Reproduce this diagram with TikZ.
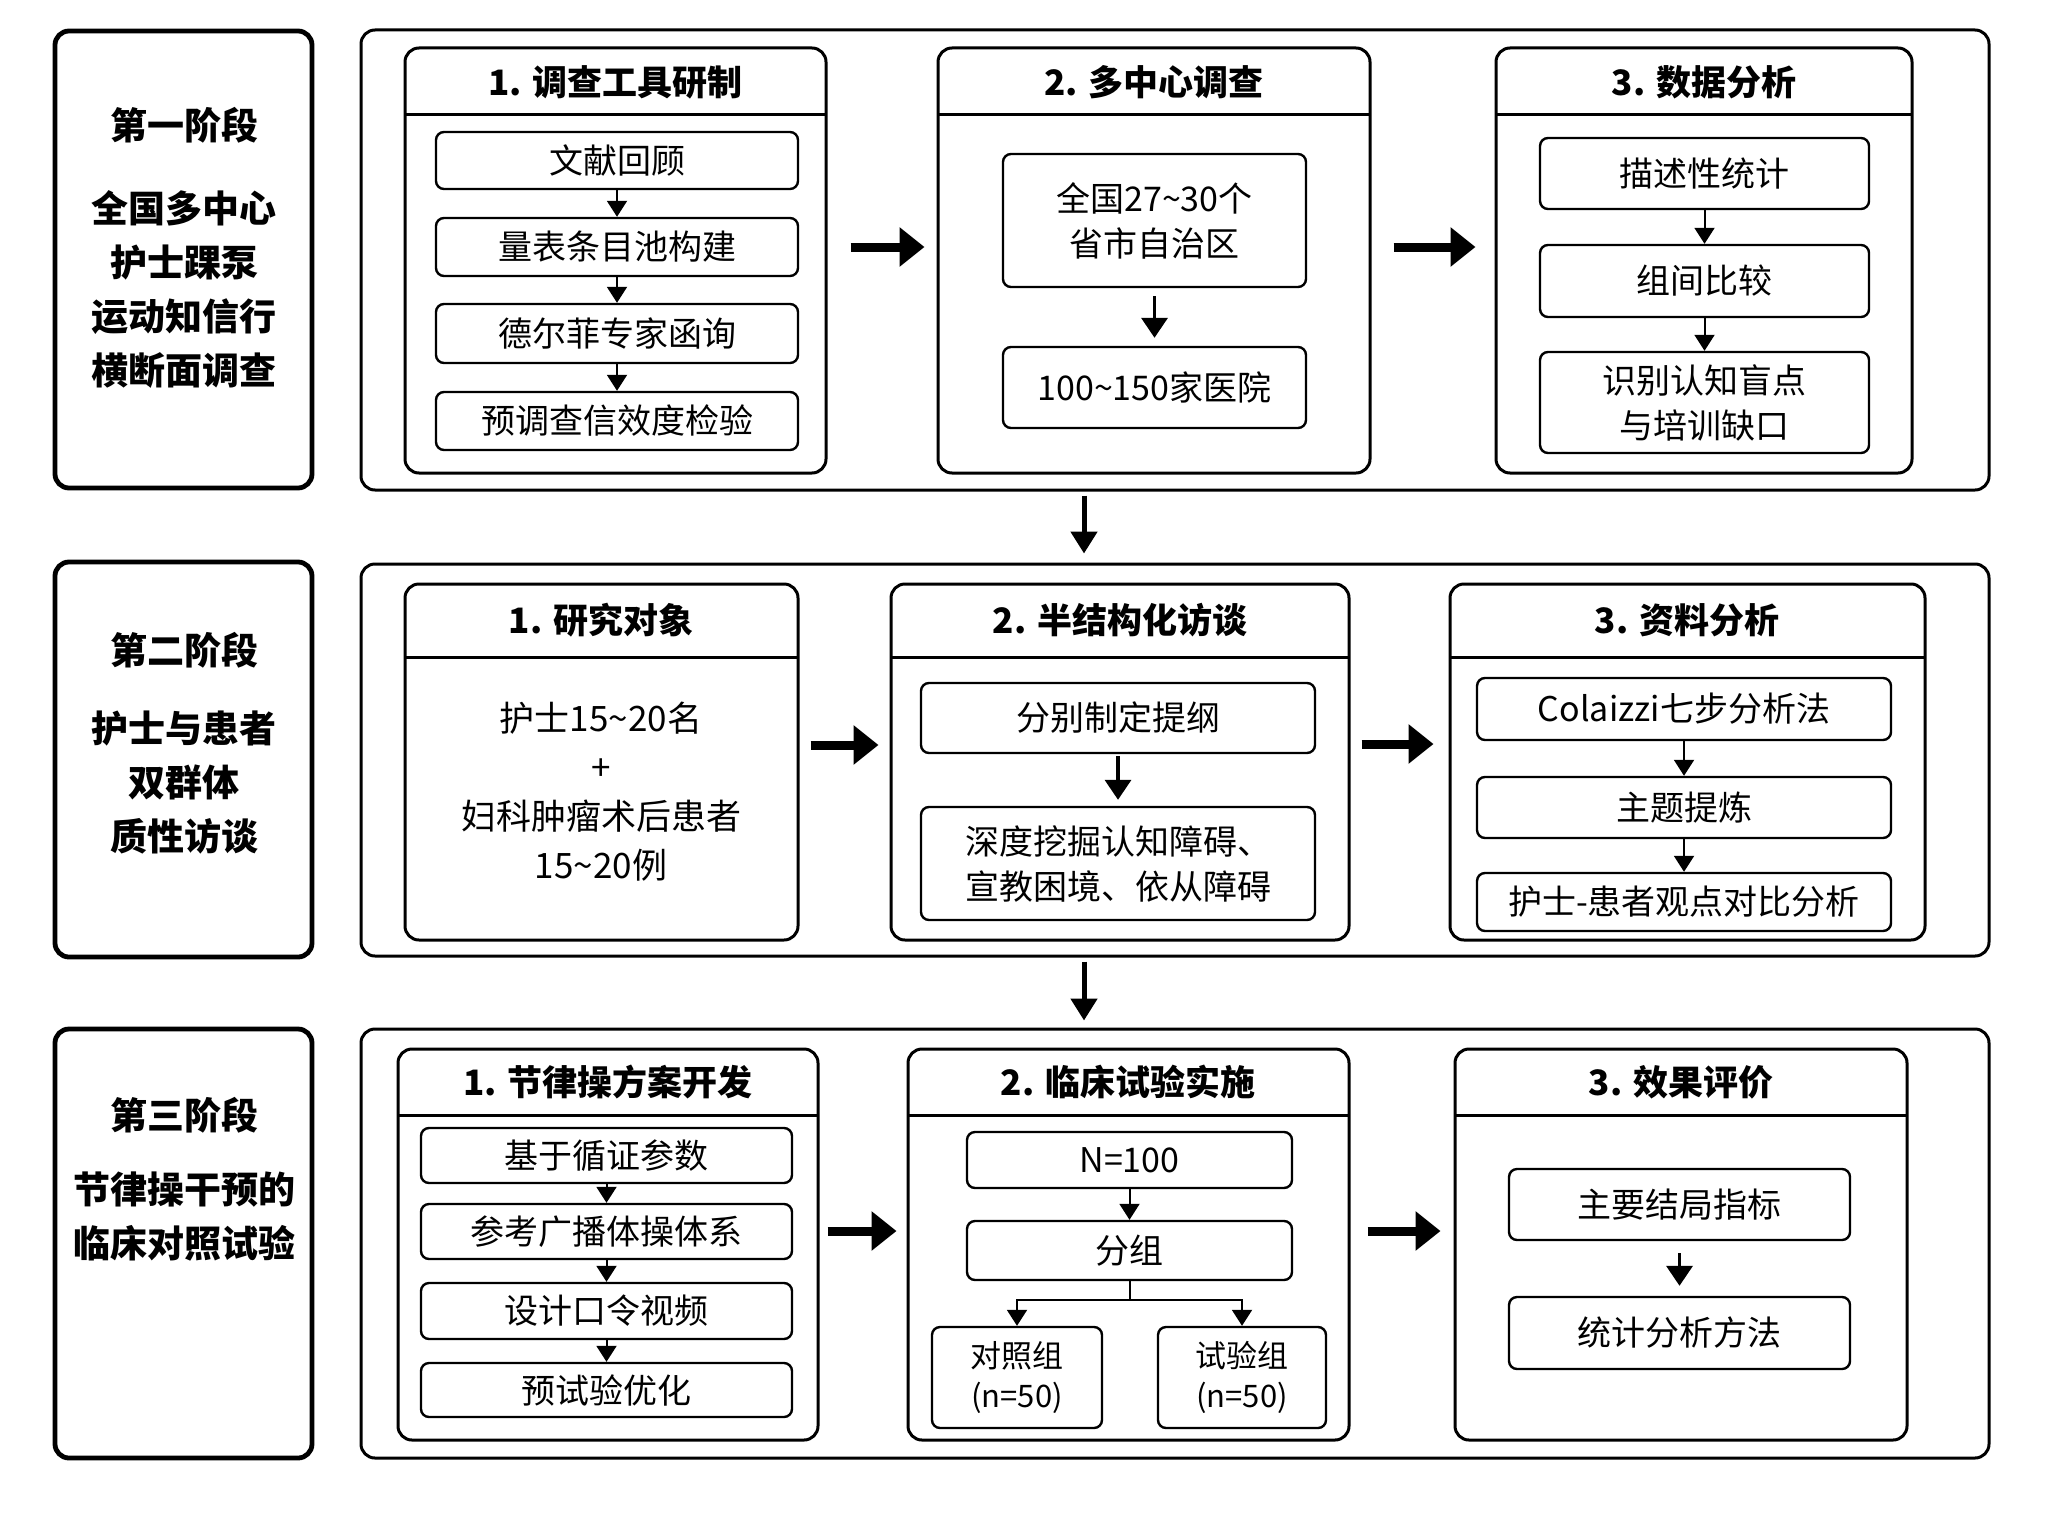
\documentclass[tikz,border=0pt]{standalone}
\usepackage{fontspec}
\setmainfont{Noto Sans CJK SC}
\usetikzlibrary{arrows.meta}
\newcommand\mkbox[7]{%
  \pgfmathsetmacro\mkbw{(#4-#2)*0.5}%
  \pgfmathsetmacro\mkbh{(#5-#3)*0.5}%
  \node[#6, minimum width=\mkbw pt, minimum height=\mkbh pt, inner sep=0pt] (#1) at ({(#2+#4)/2},{(#3+#5)/2}) {#7};}
\tikzset{
 phasebox/.style={draw, line width=2.4pt, rounded corners=7pt},
 cont/.style={draw, line width=1.5pt, rounded corners=7pt},
 subbox/.style={draw, line width=1.5pt, rounded corners=7pt},
 inbox/.style={draw, line width=1.2pt, rounded corners=4pt, font=\fontsize{17}{22.5}\selectfont, align=center},
 smbox/.style={draw, line width=1.2pt, rounded corners=4pt, font=\fontsize{15.5}{20}\selectfont, align=center},
 ttl/.style={font=\fontsize{17.5}{21}\selectfont\bfseries},
 body/.style={font=\fontsize{17.5}{24.5}\selectfont, align=center},
 phtitle/.style={font=\fontsize{18.5}{22}\selectfont\bfseries},
 phbody/.style={font=\fontsize{18.5}{27}\selectfont\bfseries, align=center},
 hdr/.style={line width=1.5pt},
 sarr/.style={line width=1pt, -{Triangle[length=8pt,width=10pt]}},
 marr/.style={line width=1.8pt, -{Triangle[length=10pt,width=13pt]}},
 barr/.style={line width=4.5pt, -{Triangle[length=12.5pt,width=19pt]}},
 parr/.style={line width=2.5pt, -{Triangle[length=11pt,width=13pt]}},
 brl/.style={line width=1pt},
}
\begin{document}
\begin{tikzpicture}[x=0.5pt,y=-0.5pt]
\fill[white] (0,0) rectangle (2048,1536);
\useasboundingbox (0,0) rectangle (2048,1536);

% ================= Phase 1 =================
\mkbox{ph1}{55}{31}{312}{488}{phasebox}{}
\node[phtitle] (ph1t) at (184,125) {第一阶段};
\node[phbody] (ph1b) at (184,289) {全国多中心\\护士踝泵\\运动知信行\\横断面调查};
\mkbox{c1}{361}{30}{1989}{490}{cont}{}

\mkbox{s11}{405}{48}{826}{473}{subbox}{}
\draw[hdr] (405,115) -- (826,115);
\node[ttl] (s11t) at (615.5,82) {1. 调查工具研制};
\mkbox{b111}{436}{132}{798}{189}{inbox}{文献回顾}
\mkbox{b112}{436}{218}{798}{276}{inbox}{量表条目池构建}
\mkbox{b113}{436}{304}{798}{363}{inbox}{德尔菲专家函询}
\mkbox{b114}{436}{392}{798}{450}{inbox}{预调查信效度检验}
\draw[sarr] (b111) -- (b112);
\draw[sarr] (b112) -- (b113);
\draw[sarr] (b113) -- (b114);

\mkbox{s12}{938}{48}{1370}{473}{subbox}{}
\draw[hdr] (938,115) -- (1370,115);
\node[ttl] (s12t) at (1154,82) {2. 多中心调查};
\mkbox{b121}{1003}{154}{1306}{287}{inbox}{全国27\textasciitilde30个\\省市自治区}
\mkbox{b122}{1003}{347}{1306}{428}{inbox}{100\textasciitilde150家医院}
\draw[marr, shorten <=4pt, shorten >=4pt] (b121) -- (b122);

\mkbox{s13}{1496}{48}{1912}{473}{subbox}{}
\draw[hdr] (1496,115) -- (1912,115);
\node[ttl] (s13t) at (1704,82) {3. 数据分析};
\mkbox{b131}{1540}{138}{1869}{209}{inbox}{描述性统计}
\mkbox{b132}{1540}{245}{1869}{317}{inbox}{组间比较}
\mkbox{b133}{1540}{352}{1869}{453}{inbox}{识别认知盲点\\与培训缺口}
\draw[sarr] (b131) -- (b132);
\draw[sarr] (b132) -- (b133);

\draw[barr] ([shift={(23,-13.5)}]s11.east) -- ([shift={(-12,-13.5)}]s12.west);
\draw[barr] ([shift={(22,-13.5)}]s12.east) -- ([shift={(-19,-13.5)}]s13.west);

% ================= Phase 2 =================
\mkbox{ph2}{55}{562}{312}{957}{phasebox}{}
\node[phtitle] (ph2t) at (184,650) {第二阶段};
\node[phbody] (ph2b) at (184,783) {护士与患者\\双群体\\质性访谈};
\mkbox{c2}{361}{564}{1989}{956}{cont}{}

\mkbox{s21}{405}{584}{798}{940}{subbox}{}
\draw[hdr] (405,657) -- (798,657);
\node[ttl] (s21t) at (601,620) {1. 研究对象};
\node[body] (s21b) at (601,792) {护士15\textasciitilde20名\\+\\妇科肿瘤术后患者\\15\textasciitilde20例};

\mkbox{s22}{891}{584}{1349}{940}{subbox}{}
\draw[hdr] (891,657) -- (1349,657);
\node[ttl] (s22t) at (1120,620) {2. 半结构化访谈};
\mkbox{b221}{921}{683}{1315}{753}{inbox}{分别制定提纲}
\mkbox{b222}{921}{807}{1315}{920}{inbox}{深度挖掘认知障碍、\\宣教困境、依从障碍}
\draw[marr, shorten <=1pt, shorten >=3pt] (b221) -- (b222);

\mkbox{s23}{1450}{584}{1925}{940}{subbox}{}
\draw[hdr] (1450,657) -- (1925,657);
\node[ttl] (s23t) at (1687,620) {3. 资料分析};
\mkbox{b231}{1477}{678}{1891}{740}{inbox}{Colaizzi七步分析法}
\mkbox{b232}{1477}{777}{1891}{838}{inbox}{主题提炼}
\mkbox{b233}{1477}{873}{1891}{931}{inbox}{护士-患者观点对比分析}
\draw[sarr] (b231) -- (b232);
\draw[sarr] (b232) -- (b233);

\draw[barr] ([shift={(11,-17)}]s21.east) -- ([shift={(-11,-17)}]s22.west);
\draw[barr] ([shift={(11,-18)}]s22.east) -- ([shift={(-15,-18)}]s23.west);

% ================= Phase 3 =================
\mkbox{ph3}{55}{1029}{312}{1458}{phasebox}{}
\node[phtitle] (ph3t) at (184,1115) {第三阶段};
\node[phbody] (ph3b) at (184,1216.5) {节律操干预的\\临床对照试验};
\mkbox{c3}{361}{1029}{1989}{1458}{cont}{}

\mkbox{s31}{398}{1049}{818}{1440}{subbox}{}
\draw[hdr] (398,1115) -- (818,1115);
\node[ttl] (s31t) at (608,1082) {1. 节律操方案开发};
\mkbox{b311}{421}{1128}{792}{1183}{inbox}{基于循证参数}
\mkbox{b312}{421}{1204}{792}{1259}{inbox}{参考广播体操体系}
\mkbox{b313}{421}{1283}{792}{1339}{inbox}{设计口令视频}
\mkbox{b314}{421}{1363}{792}{1417}{inbox}{预试验优化}
\draw[sarr] (b311) -- (b312);
\draw[sarr] (b312) -- (b313);
\draw[sarr] (b313) -- (b314);

\mkbox{s32}{908}{1049}{1349}{1440}{subbox}{}
\draw[hdr] (908,1115) -- (1349,1115);
\node[ttl] (s32t) at (1128,1082) {2. 临床试验实施};
\mkbox{b321}{967}{1132}{1292}{1188}{inbox}{N=100}
\mkbox{b322}{967}{1221}{1292}{1280}{inbox}{分组}
\mkbox{b323}{932}{1327}{1102}{1428}{smbox}{对照组\\(n=50)}
\mkbox{b324}{1158}{1327}{1326}{1428}{smbox}{试验组\\(n=50)}
\draw[sarr] (b321) -- (b322);
\draw[brl] (b322.south) -- ++(0,19) coordinate (br);
\draw[sarr] (br) -| (b323.north);
\draw[sarr] (br) -| (b324.north);

\mkbox{s33}{1455}{1049}{1907}{1440}{subbox}{}
\draw[hdr] (1455,1115) -- (1907,1115);
\node[ttl] (s33t) at (1681,1082) {3. 效果评价};
\mkbox{b331}{1509}{1169}{1850}{1240}{inbox}{主要结局指标}
\mkbox{b332}{1509}{1297}{1850}{1369}{inbox}{统计分析方法}
\draw[marr, shorten <=6pt, shorten >=5pt] (b331) -- (b332);

\draw[barr] ([shift={(8,-13.5)}]s31.east) -- ([shift={(-10,-13.5)}]s32.west);
\draw[barr] ([shift={(17,-13.5)}]s32.east) -- ([shift={(-13,-13.5)}]s33.west);

% ================= Phase arrows =================
\draw[parr] ([shift={(-91,4)}]c1.south) -- ([shift={(-91,-9)}]c2.north);
\draw[parr] ([shift={(-91,4)}]c2.south) -- ([shift={(-91,-7)}]c3.north);
\end{tikzpicture}
\end{document}
